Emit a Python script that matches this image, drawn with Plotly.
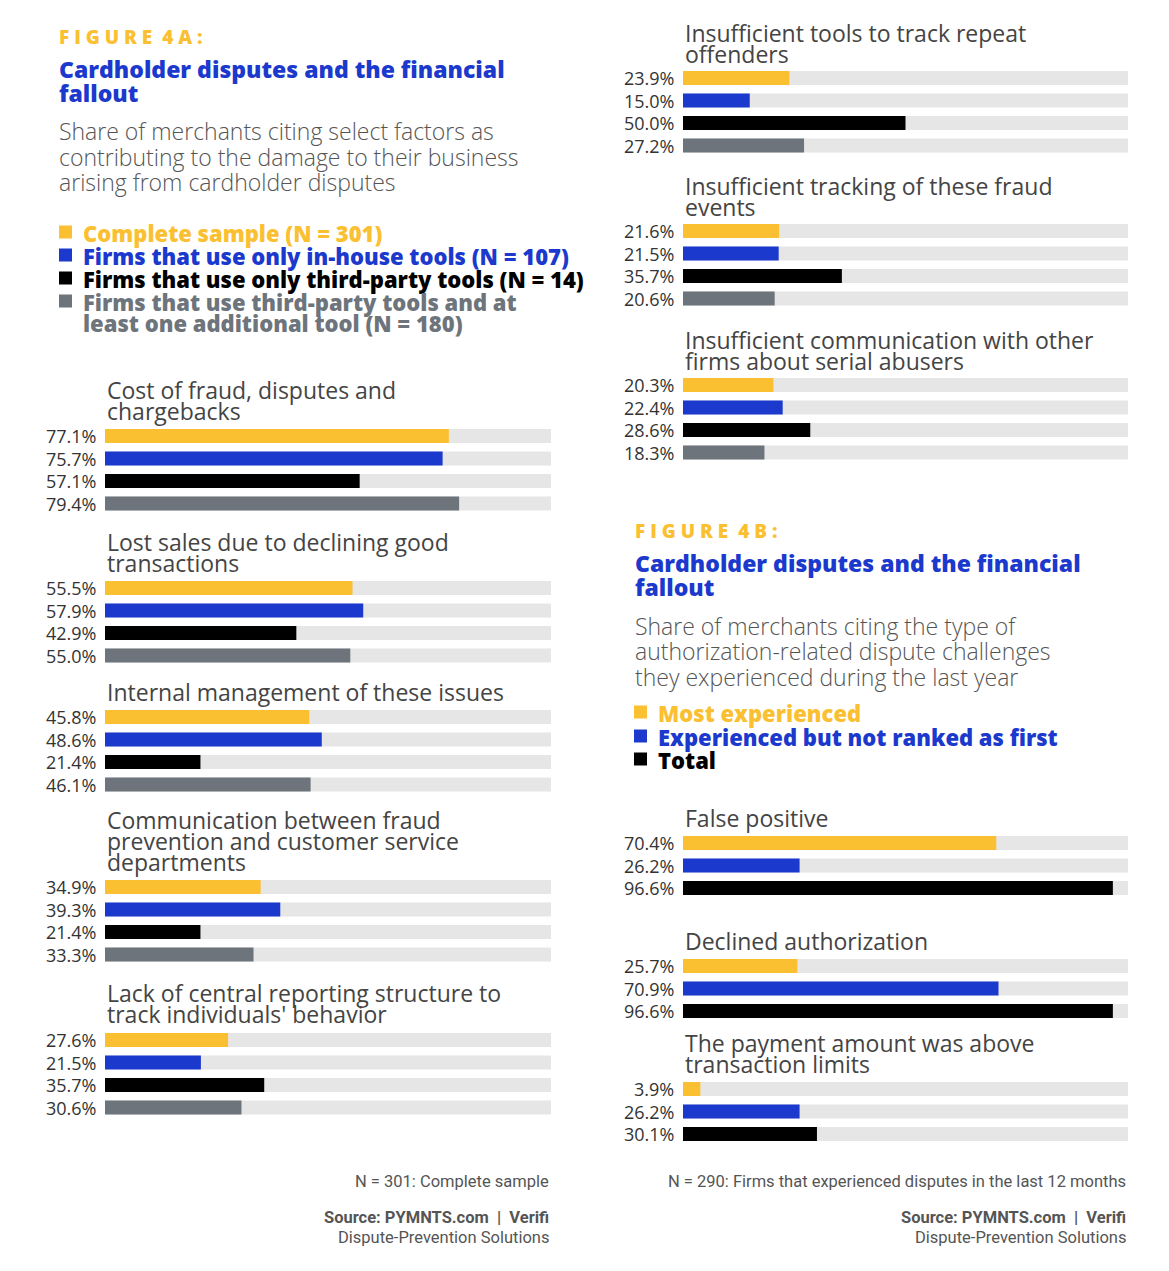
import plotly.graph_objects as go

# ---------------- DATA ----------------
fig4a_categories = [
    ["Cost of fraud, disputes and", "chargebacks"],
    ["Lost sales due to declining good", "transactions"],
    ["Internal management of these issues"],
    ["Communication between fraud", "prevention and customer service", "departments"],
    ["Lack of central reporting structure to", "track individuals' behavior"],
    ["Insufficient tools to track repeat", "offenders"],
    ["Insufficient tracking of these fraud", "events"],
    ["Insufficient communication with other", "firms about serial abusers"],
]
fig4a_series_names = [
    ["Complete sample (N = 301)"],
    ["Firms that use only in-house tools (N = 107)"],
    ["Firms that use only third-party tools (N = 14)"],
    ["Firms that use third-party tools and at", "least one additional tool (N = 180)"],
]
complete_sample = [77.1, 55.5, 45.8, 34.9, 27.6, 23.9, 21.6, 20.3]
inhouse_only = [75.7, 57.9, 48.6, 39.3, 21.5, 15.0, 21.5, 22.4]
thirdparty_only = [57.1, 42.9, 21.4, 21.4, 35.7, 50.0, 35.7, 28.6]
thirdparty_plus = [79.4, 55.0, 46.1, 33.3, 30.6, 27.2, 20.6, 18.3]

fig4b_categories = [
    ["False positive"],
    ["Declined authorization"],
    ["The payment amount was above", "transaction limits"],
]
fig4b_series_names = [["Most experienced"], ["Experienced but not ranked as first"], ["Total"]]
most_experienced = [70.4, 25.7, 3.9]
not_ranked_first = [26.2, 70.9, 26.2]
total = [96.6, 96.6, 30.1]

# ---------------- STYLE / LAYOUT ----------------
W, H = 1169, 1271
OFF = 8  # page body margin
YELLOW, BLUE, BLACK, GRAY = "#fbbf32", "#1b39cc", "#000000", "#6d747b"
TRACK = "#e6e6e6"
colors4a = [YELLOW, BLUE, BLACK, GRAY]
colors4b = [YELLOW, BLUE, BLACK]
PITCH = 22.5
BAR_W = 14

groups4a_layout = [
    ("x", [390, 411], 436),
    ("x", [542, 563], 588),
    ("x", [692], 717),
    ("x", [820, 841, 862], 887),
    ("x", [993, 1014], 1040),
    ("x2", [33, 54], 78),
    ("x2", [186, 207], 231),
    ("x2", [340, 361], 385),
]
groups4b_layout = [
    ("x2", [818], 843),
    ("x2", [941], 966),
    ("x2", [1043, 1064], 1089),
]
panel_left = {"x": 105, "x2": 683}

LABEL_FONT = "Open Sans, sans-serif"
HEAD_FONT = "Open Sans, sans-serif"
FOOT_FONT = "Roboto, sans-serif"

fig = go.Figure()
annotations = []
shapes = []


def px(x):
    return (x - OFF) / W


def text(x, y, t, size, color, family=LABEL_FONT, weight=400, anchor="left"):
    annotations.append(dict(x=px(x), y=y, xref="paper", yref="y", text=t, showarrow=False,
                            xanchor=anchor, yanchor="middle",
                            font=dict(family=family, size=size, color=color, weight=weight)))


def add_groups(cats, series, colors, layout):
    for gi, (xa, label_ys, first_y) in enumerate(layout):
        n = len(series)
        ys = [first_y + i * PITCH for i in range(n)]
        fig.add_trace(go.Bar(x=[100] * n, y=ys, orientation="h", width=BAR_W,
                             marker=dict(color=TRACK, line=dict(width=0)),
                             xaxis=xa, yaxis="y", hoverinfo="skip", showlegend=False))
        vals = [s[gi] for s in series]
        fig.add_trace(go.Bar(x=vals, y=ys, orientation="h", width=BAR_W,
                             marker=dict(color=colors, line=dict(width=0)),
                             xaxis=xa, yaxis="y", showlegend=False))
        for v, yy in zip(vals, ys):
            text(panel_left[xa] - 7, yy, f"{v:.1f}%", 18, "#333333", anchor="right")
        for line, ly in zip(cats[gi], label_ys):
            text(panel_left[xa], ly, line, 23, "#444444")


add_groups(fig4a_categories,
           [complete_sample, inhouse_only, thirdparty_only, thirdparty_plus],
           colors4a, groups4a_layout)
add_groups(fig4b_categories, [most_experienced, not_ranked_first, total],
           colors4b, groups4b_layout)


def header(x0, y_fig, title_ys, sub_lines, sub_ys, fig_label):
    text(x0, y_fig, fig_label, 19, YELLOW, HEAD_FONT, 800)
    for t, ty in zip(["Cardholder disputes and the financial", "fallout"], title_ys):
        text(x0, ty, t, 23, BLUE, HEAD_FONT, 800)
    for t, ty in zip(sub_lines, sub_ys):
        text(x0, ty, t, 23, "#555555", LABEL_FONT, 300)


header(57, 37, [69, 93],
       ["Share of merchants citing select factors as",
        "contributing to the damage to their business",
        "arising from cardholder disputes"], [131, 157, 182],
       "F I G U R E &nbsp;4 A :")
header(633, 531, [563, 587],
       ["Share of merchants citing the type of",
        "authorization-related dispute challenges",
        "they experienced during the last year"], [626, 651, 677],
       "F I G U R E &nbsp;4 B :")


def legend(x_sq, x_txt, names, colors, ys):
    for lines, c, yy in zip(names, colors, ys):
        shapes.append(dict(type="rect", xref="paper", yref="y",
                           x0=px(x_sq), x1=px(x_sq + 13), y0=yy - 7.5, y1=yy + 5.5,
                           fillcolor=c, line=dict(width=0)))
        for k, line in enumerate(lines):
            text(x_txt, yy + k * 21, line, 22, c, HEAD_FONT, 800)


legend(59, 81, fig4a_series_names, colors4a, [233, 256, 279, 302])
legend(634, 656, fig4b_series_names, colors4b, [713, 737, 760])

for xr, note in [(551, "N = 301: Complete sample"),
                 (1128, "N = 290: Firms that experienced disputes in the last 12 months")]:
    text(xr, 1181, note, 16.5, "#555555", FOOT_FONT, 400, "right")
    text(xr, 1217, "Source: PYMNTS.com &nbsp;|&nbsp; Verifi", 16.5, "#555555", FOOT_FONT, 700, "right")
    text(xr, 1237, "Dispute-Prevention Solutions", 16.5, "#555555", FOOT_FONT, 400, "right")

axis_common = dict(range=[0, 100], showgrid=False, zeroline=False, showticklabels=False,
                   showline=False, ticks="", fixedrange=True)
fig.update_layout(
    width=W, height=H, margin=dict(l=0, r=0, t=0, b=0),
    paper_bgcolor="white", plot_bgcolor="white",
    barmode="overlay", showlegend=False,
    xaxis=dict(domain=[px(105), px(551)], anchor="y", **axis_common),
    xaxis2=dict(domain=[px(683), px(1128)], anchor="y", **axis_common),
    yaxis=dict(range=[H + OFF, OFF], domain=[0, 1], showgrid=False, zeroline=False,
               showticklabels=False, showline=False, ticks="", fixedrange=True),
    annotations=annotations, shapes=shapes,
)

fig.write_html("out.html")
